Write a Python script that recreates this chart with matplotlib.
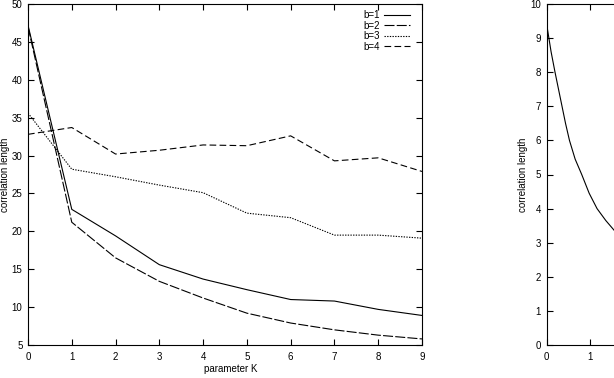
import numpy as np
import matplotlib
matplotlib.use("Agg")
import matplotlib.pyplot as plt

plt.rcParams['font.family'] = ['Liberation Sans', 'DejaVu Sans']
plt.rcParams['font.size'] = 7

# left panel: correlation length vs parameter K for several b
K = [0, 1, 2, 3, 4, 5, 6, 7, 8, 9]
b1 = [47.2, 22.9, 19.4, 15.6, 13.7, 12.3, 11.0, 10.8, 9.7, 8.9]
b2 = [47.0, 21.2, 16.5, 13.4, 11.2, 9.2, 7.9, 7.0, 6.3, 5.8]
b3 = [35.6, 28.2, 27.2, 26.1, 25.1, 22.4, 21.8, 19.5, 19.5, 19.1]
b4 = [32.8, 33.7, 30.2, 30.7, 31.4, 31.3, 32.6, 29.3, 29.7, 27.9]
labels = ['b=1', 'b=2', 'b=3', 'b=4']
styles = ['-', (0, (9, 2)), (0, (1.2, 1.2)), (0, (6, 3))]

# right panel (cut off at the figure edge, only K=0..1 labels visible)
K_r = [0, 0.05, 0.1, 0.19, 0.27, 0.35, 0.43, 0.52, 0.65, 0.8, 0.97,
       1.15, 1.35, 1.55, 2.0]
corr_r = [9.4, 9.0, 8.6, 8.0, 7.5, 7.0, 6.5, 6.0, 5.45, 5.0, 4.45,
          4.0, 3.65, 3.35, 2.9]
xlab_r = ['0', '1', '', '', '', '', '', '', '', '']


def style_axes(ax):
  ax.tick_params(direction='in', length=4, width=0.8, top=True, right=True,
                 pad=4, labelsize=7)
  ax.tick_params(axis='x', pad=5)
  for s in ax.spines.values():
    s.set_linewidth(0.8)


fig = plt.figure(figsize=(6.14, 3.78), dpi=100)
ax = fig.add_axes([28/614, 33/378, 394/614, 341/378])
for y, lab, ls in zip([b1, b2, b3, b4], labels, styles):
  ax.plot(K, y, color='black', lw=0.8, ls=ls, label=lab)
ax.set_xlim(0, 9)
ax.set_ylim(5, 50)
ax.set_xticks(range(0, 10))
ax.set_yticks(range(5, 51, 5))
style_axes(ax)
ax.set_xlabel('parameter K', fontsize=7)
ax.xaxis.set_label_coords(0.515, -0.055)
ax.set_ylabel('correlation length', fontsize=7)
ax.yaxis.set_label_coords(-0.045, 0.5)
ax.legend(loc='upper right', bbox_to_anchor=(0.985, 1.0), frameon=False,
          markerfirst=False, handlelength=2.6, labelspacing=0.05,
          handletextpad=0.5, borderpad=0.15, fontsize=7)

ax2 = fig.add_axes([546.7/614, 33/378, 394/614, 341/378])
ax2.plot(K_r, corr_r, color='black', lw=0.8)
ax2.set_xlim(0, 9)
ax2.set_ylim(0, 10)
ax2.set_xticks(range(0, 10))
ax2.set_xticklabels(xlab_r)
ax2.set_yticks(range(0, 11))
style_axes(ax2)
ax2.set_ylabel('correlation length', fontsize=7)
ax2.yaxis.set_label_coords(-0.047, 0.5)

fig.savefig('out.png', dpi=100)
